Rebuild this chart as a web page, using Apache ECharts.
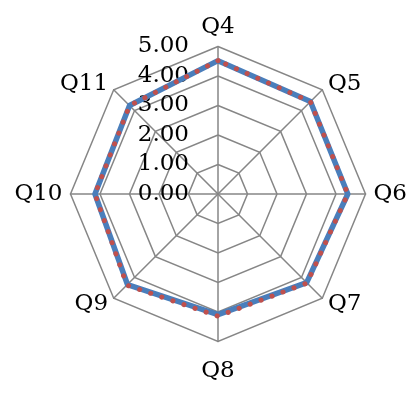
<!DOCTYPE html>
<html>
<head>
<meta charset="utf-8">
<script src="https://cdn.jsdelivr.net/npm/echarts@6/dist/echarts.min.js"></script>
<style>
html,body{margin:0;padding:0;background:#fff;}
#radar{width:414px;height:394px;}
</style>
</head>
<body>
<div id="radar"></div>
<script>
// 設問（時計回り、上から）
const questions = ['Q4', 'Q5', 'Q6', 'Q7', 'Q8', 'Q9', 'Q10', 'Q11'];
const scoreBlue = [4.52, 4.43, 4.40, 4.25, 4.09, 4.34, 4.17, 4.24];
const scoreRed = [4.52, 4.43, 4.40, 4.27, 4.14, 4.37, 4.17, 4.24];
const tickValues = [0, 1, 2, 3, 4, 5];

// ラベルの上下位置の微調整（上余白px）
const namePadTop = { Q4: 2, Q5: 6, Q7: 9, Q8: 10, Q9: 7, Q11: 2 };

// echartsのradarは反時計回りなので並べ替える
function clockwise(arr) {
	return [arr[0]].concat(arr.slice(1).reverse());
}

var myChart = echarts.init(document.getElementById('radar'));
const axisMin = tickValues[0];
const axisMax = tickValues[tickValues.length - 1];

const indicators = clockwise(questions).map(function (q, i) {
	let ind = { name: q, min: axisMin, max: axisMax };
	if (namePadTop[q]) {
		ind.nameTextStyle = { padding: [namePadTop[q], 0, 0, 0] };
	}
	if (i == 0) {
		ind.axisLabel = {
			show: true,
			color: '#000',
			fontFamily: 'DejaVu Serif',
			fontSize: 23,
			margin: 29,
			padding: [9, 0, 0, 0],
			formatter: function (v) { return v.toFixed(2); }
		};
	}
	return ind;
});

var option = {
	animation: false,
	backgroundColor: '#fff',
	radar: {
		center: [218, 194],
		radius: 147.5,
		startAngle: 90,
		splitNumber: tickValues.length - 1,
		shape: 'polygon',
		nameGap: 8,
		axisName: {
			color: '#000',
			fontFamily: 'DejaVu Serif',
			fontSize: 23
		},
		axisLabel: { show: false },
		axisTick: { show: false },
		axisLine: {
			lineStyle: { color: '#868686', width: 1.5 }
		},
		splitLine: {
			lineStyle: { color: '#868686', width: 1.5 }
		},
		splitArea: { show: false },
		indicator: indicators
	},
	series: [
		{
			type: 'radar',
			symbol: 'none',
			data: [
				{
					value: clockwise(scoreBlue),
					lineStyle: { color: '#4A7EBB', width: 5.5, join: 'round' }
				},
				{
					value: clockwise(scoreRed),
					lineStyle: { color: '#C0504D', width: 5, type: [0.1, 11.6], cap: 'round' }
				}
			]
		}
	]
};

myChart.setOption(option);
</script>
</body>
</html>
